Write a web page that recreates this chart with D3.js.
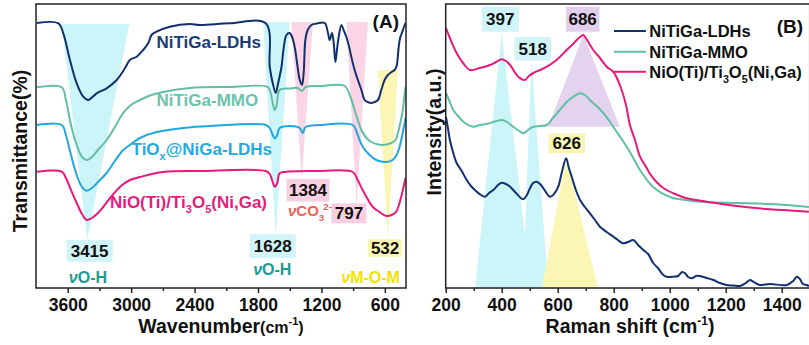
<!DOCTYPE html>
<html><head><meta charset="utf-8">
<script src="https://cdn.jsdelivr.net/npm/d3@7"></script>
<style>
body{margin:0;background:#fff;}
svg{display:block;font-family:"Liberation Sans",Arial,Helvetica,sans-serif;font-weight:bold;}
</style></head><body>
<svg id="c" width="809" height="345"></svg>
<script>
// ---------------- DATA ----------------
// FTIR (panel A): wavenumber (cm-1) and transmittance (arbitrary, stacked)
const ftirLDH_w = [3891,3689,3642,3579,3515,3453,3406,3326,3232,3137,3059,3012,2948,2886,2839,2807,2760,2634,2445,2350,2067,1727,1689,1661,1632,1609,1578,1557,1531,1500,1481,1453,1424,1405,1384,1368,1352,1330,1295,1235,1169,1138,1122,1100,1084,1068,1051,1037,1011,990,964,942,917,886,855,822,791,763,728,697,665,634,602,571,536,508,489,470,456,439,423,404];
const ftirLDH_t = [265,264.7,254.7,228,204.7,191.3,188,194.7,199.7,208,219.7,228,231.3,238,244.7,253,256.3,261.3,264,263,264.7,264.7,221,205,195,205,221,240,253,255,252,241,220,208,203,215,248,258,263,264.7,265,255,248,255,245,226,240,251,263,258,251,243,231,218,208,198,188,186,185,186,188,198,208,213,216,218,222,240,250,255,260,265];
const ftirMMO_w = [3891,3657,3617,3569,3515,3465,3421,3371,3314,3232,3154,3075,3002,2917,2823,2697,2445,2067,1708,1680,1661,1642,1623,1595,1500,1424,1384,1349,1216,980,932,886,822,782,728,634,539,499,477,452,430,414,404];
const ftirMMO_t = [200.7,200.7,188,163,143,131,128,131,138,148,161,175,183,188,192.5,196,200,201,201,195,185,178,183,198,199.5,200,197,201,202,202,193,178,158,151,146,143,145,148,155,166,178,193,201];
const ftirTiOx_w = [3891,3657,3617,3569,3515,3465,3421,3371,3314,3232,3154,3075,3012,2917,2760,2511,2256,1727,1689,1661,1642,1618,1595,1500,1405,1377,1349,1216,904,857,810,744,681,586,526,489,460,437,414,404];
const ftirTiOx_t = [163,163,153,133,113,101,97.3,100,106,115,127,138,143,150,156,160,162,163,160,153,149.7,153,160,162,160,155,161,163,163,153,141.3,133,128,126,128,133,141.3,152,164,170];
const ftirNiO_w = [3891,3657,3617,3569,3515,3465,3421,3371,3314,3264,3191,3106,3012,2917,2697,2350,1727,1689,1661,1642,1618,1595,1500,1216,904,857,810,763,716,650,586,536,492,470,445,423,404];
const ftirNiO_t = [116.3,116.3,110,98,85,74,68,70,75,81,91,101,108,111,116,117,117,114,106,101.3,105,114.7,116.5,117,116,108,98,89,81.3,76,72,73,76.3,82,91.3,101,110];

// Raman (panel B): shift (cm-1) and intensity (a.u., stacked)
const ramLDH_r = [201,208,215,226,239,255,275,290,311,326,340,355,370,387,400,415,430,451,477,490,501,512,525,537,549,572,587,602,615,630,640,650,665,680,697,715,733,751,775,799,815,834,851,870,887,906,923,941,958,977,994,1013,1030,1044,1055,1066,1079,1094,1108,1132,1156,1180,1203,1226,1251,1272,1287,1298,1322,1358,1418,1441,1454,1465,1476,1489,1497];
const ramLDH_i = [171,160,148,136,125,118,108,102,96.3,93,91.3,95,98,103,105.3,104,101.3,95,88.7,93,99.7,105,106.3,104,99.7,91.3,94,101.3,116,129.7,120,111.3,98,88,81,74.7,68,61.3,56,51.3,48,44.7,46,48,43,38,34,25,20,13,11,11.3,12,16,14.7,11,9.7,12,12,10,8,5,3,2.5,2,5,8,6.3,3,4,3,7,11.3,9,4,3,2];
const ramMMO_r = [201,212,227,244,263,299,322,346,376,400,419,441,458,477,494,513,537,561,583,608,632,656,680,697,715,739,763,787,811,833,858,894,941,1001,1055,1120,1239,1358,1489,1497];
const ramMMO_i = [195,188,178,172,166.3,161.3,163,164,166.5,168,166,161.3,158,154.7,158,161.3,162,163,170,178,186,191.3,194.7,193,188,182,175,166,156,147,136,118,101,91,88,86,85,84,81.3,81];
const ramNiO_r = [201,215,239,262,287,322,358,380,400,415,430,459,483,497,513,537,561,596,632,655,668,680,691,705,727,751,775,799,822,844,858,876,894,918,930,953,977,1019,1061,1132,1239,1358,1430,1497];
const ramNiO_i = [260,250,235,225,218,220,223,226,228.7,227,223,211.3,208,212,215,218,221.3,228,238,244,248,251,253,248,238,230,221.3,216,203,183,163,148,131.3,120,114,106,100,94,89.7,86.3,82,78.7,77.5,76.3];

const ftirMajor = [3600,3000,2400,1800,1200,600];
const ftirMinor = [3300,2700,2100,1500,900];
const ramMajor = [200,400,600,800,1000,1200,1400];
const ramMinor = [300,500,700,900,1100,1300,1500];

// ---------------- DRAWING ----------------
const svg = d3.select("#c");
const C = {ldh:"#12306e", mmo:"#62bea4", tiox:"#22a6df", nio:"#e8197a"};
const band = {cyan:"#cbf5f9", pink:"#fbd5e5", yellow:"#fcf6b4", purple:"#e4d3ee"};
const boxc = {cyan:"#d0f4f8", pink:"#f9d0e2", yellow:"#fbf5b5", purple:"#e2cfeb"};

const xF = d3.scaleLinear().domain([3900,400]).range([36,406]);
const yF = d3.scaleLinear().domain([0,284]).range([288,4]);
const xR = d3.scaleLinear().domain([200,1500]).range([445.7,809.7]);
const yR = d3.scaleLinear().domain([0,284]).range([288,4]);

const defs = svg.append("defs");
defs.append("clipPath").attr("id","clipA").append("rect").attr("x",36).attr("y",4).attr("width",370).attr("height",284);
defs.append("clipPath").attr("id","clipB").append("rect").attr("x",445.7).attr("y",4).attr("width",364).attr("height",284);

function rich(sel, segs, size){
  let shift = 0;
  segs.forEach(s=>{
    const target = s.sub ? size*0.3 : (s.sup ? -size*0.4 : 0);
    const ts = sel.append("tspan").text(s.t).attr("dy", target-shift);
    if(s.sub||s.sup) ts.attr("font-size", size*0.65);
    if(s.it) ts.attr("font-style","italic");
    if(s.dx) ts.attr("dx", s.dx);
    shift = target;
  });
}
function label(g, x, y, segs, size, color, anchor){
  const t = g.append("text").attr("x",x).attr("y",y).attr("font-size",size)
    .attr("fill",color).attr("text-anchor",anchor||"start");
  rich(t, segs, size);
  return t;
}
function box(g, cx, cy, w, h, fill, txt, size){
  g.append("rect").attr("x",cx-w/2).attr("y",cy-h/2).attr("width",w).attr("height",h).attr("fill",fill);
  g.append("text").attr("x",cx).attr("y",cy+size*0.36).attr("text-anchor","middle")
    .attr("font-size",size).attr("fill","#111").text(txt);
}

// ===== Panel A =====
const gA = svg.append("g");
const bandsA = gA.append("g").attr("clip-path","url(#clipA)");
const wedgesA = [
  {a:3657,b:3018,tip:3415,top:264,bot:48,c:band.cyan},
  {a:1752,b:1500,tip:1632,top:266,bot:52,c:band.cyan},
  {a:1484,b:1280,tip:1387,top:266,bot:108,c:band.pink},
  {a:964,b:760,tip:867,top:266,bot:83,c:band.pink},
  {a:665,b:477,tip:571,top:218,bot:48,c:band.yellow}
];
wedgesA.forEach(d=>{
  bandsA.append("polygon")
    .attr("points",[[xF(d.a),yF(d.top)],[xF(d.b),yF(d.top)],[xF(d.tip),yF(d.bot)]].map(p=>p.join(",")).join(" "))
    .attr("fill",d.c);
});
// annotation boxes A
const annA = gA.append("g");
box(annA, xF(3393), yF(37.2), 46, 22, boxc.cyan, "3415", 17);
box(annA, xF(1661), yF(41.8), 46, 24, boxc.cyan, "1628", 17);
box(annA, xF(1327), yF(97.7), 43, 22.5, boxc.pink, "1384", 17);
box(annA, xF(940), yF(74.7), 35, 20, boxc.pink, "797", 17);
box(annA, xF(598), yF(40), 34.5, 17.5, boxc.yellow, "532", 17);

// curves A
const lineA = d3.line().x(d=>xF(d[0])).y(d=>yF(d[1])).curve(d3.curveCatmullRom.alpha(0.5));
const curvesA = gA.append("g").attr("clip-path","url(#clipA)");
[[ftirLDH_w,ftirLDH_t,C.ldh],[ftirMMO_w,ftirMMO_t,C.mmo],[ftirTiOx_w,ftirTiOx_t,C.tiox],[ftirNiO_w,ftirNiO_t,C.nio]]
 .forEach(([w,t,c])=>{
  curvesA.append("path").datum(w.map((v,i)=>[v,t[i]])).attr("d",lineA)
    .attr("fill","none").attr("stroke",c).attr("stroke-width",2).attr("stroke-linejoin","round");
 });

// labels A
label(gA, xF(2760), yF(240), [{t:"NiTiGa-LDHs"}], 17, "#1b3b78");
label(gA, xF(2760), yF(182), [{t:"NiTiGa-MMO"}], 17, "#6cc3ad");
label(gA, xF(2996), yF(133.5), [{t:"TiO"},{t:"x",sub:true},{t:"@NiGa-LDHs"}], 17, "#27a9e0");
label(gA, xF(3201), yF(80.5), [{t:"NiO(Ti)/Ti"},{t:"3",sub:true},{t:"O"},{t:"5",sub:true},{t:"(Ni,Ga)"}], 17, "#e31f7b");
label(gA, xF(716), yF(260), [{t:"(A)"}], 19, "#111");
label(gA, xF(3409), yF(5), [{t:"ν",it:true},{t:"O-H"}], 16, "#1f9a93", "middle");
label(gA, xF(1665), yF(13), [{t:"ν",it:true},{t:"O-H"}], 16, "#1f9a93", "middle");
label(gA, xF(1516), yF(72), [{t:"ν",it:true},{t:"CO"},{t:"3",sub:true},{t:"2-",sup:true,dx:-1}], 15, "#ef6058");
label(gA, xF(735), yF(5), [{t:"ν",it:true},{t:"M-O-M"}], 16, "#f2e200", "middle");

// axes A
const axA = gA.append("g").attr("transform","translate(0,288)");
axA.call(d3.axisBottom(xF).tickValues(ftirMajor).tickSize(5).tickPadding(6).tickFormat(d3.format("d")));
axA.append("g").call(d3.axisBottom(xF).tickValues(ftirMinor).tickSize(3).tickFormat(""));
axA.selectAll(".domain").remove();
axA.selectAll("line").attr("stroke","#222").attr("stroke-width",1.5);
axA.selectAll("text").attr("font-size",17.5).attr("font-weight","bold").attr("fill","#111")
   .attr("font-family",'"Liberation Sans",Arial,sans-serif');
gA.append("rect").attr("x",36).attr("y",4).attr("width",370).attr("height",284)
  .attr("fill","none").attr("stroke","#222").attr("stroke-width",1.5);
const xtA = gA.append("text").attr("x",xF(2150)).attr("y",333).attr("text-anchor","middle").attr("font-size",19.5).attr("fill","#111");
xtA.append("tspan").text("Wavenumber");
xtA.append("tspan").attr("font-size",16).text("(cm");
xtA.append("tspan").attr("font-size",11).attr("dy",-8).text("-1");
xtA.append("tspan").attr("font-size",16).attr("dy",8).text(")");
gA.append("text").attr("transform","translate(27,151) rotate(-90)").attr("text-anchor","middle")
  .attr("font-size",19.5).attr("fill","#111").text("Transmittance(%)");

// ===== Panel B =====
const gB = svg.append("g");
const bandsB = gB.append("g").attr("clip-path","url(#clipB)");
const triB = [
  {apex:[400,255],b0:305,b1:505,base:0,c:band.cyan},
  {apex:[506,230],b0:476,b1:566,base:0,c:band.cyan},
  {apex:[630,130],b0:544,b1:744,base:0,c:band.yellow},
  {apex:[692,253],b0:566,b1:822,base:161.3,c:band.purple}
];
triB.forEach(d=>{
  bandsB.append("polygon")
    .attr("points",[[xR(d.apex[0]),yR(d.apex[1])],[xR(d.b0),yR(d.base)],[xR(d.b1),yR(d.base)]].map(p=>p.join(",")).join(" "))
    .attr("fill",d.c);
});
const annB = gB.append("g");
box(annB, xR(395), yR(268.8), 37, 25, boxc.cyan, "397", 17);
box(annB, xR(511), yR(239.2), 36.5, 23.5, boxc.cyan, "518", 17);
box(annB, xR(689), yR(268.8), 33.5, 25, boxc.purple, "686", 17);
box(annB, xR(632), yR(144.7), 36.5, 20, boxc.yellow, "626", 17);

const lineB = d3.line().x(d=>xR(d[0])).y(d=>yR(d[1])).curve(d3.curveCatmullRom.alpha(0.5));
const curvesB = gB.append("g").attr("clip-path","url(#clipB)");
[[ramMMO_r,ramMMO_i,C.mmo],[ramNiO_r,ramNiO_i,C.nio],[ramLDH_r,ramLDH_i,C.ldh]]
 .forEach(([r,v,c])=>{
  curvesB.append("path").datum(r.map((x,i)=>[x,v[i]])).attr("d",lineB)
    .attr("fill","none").attr("stroke",c).attr("stroke-width",2).attr("stroke-linejoin","round");
 });

// legend
const leg = [
  {segs:[{t:"NiTiGa-LDHs"}], c:C.ldh, v:257},
  {segs:[{t:"NiTiGa-MMO"}], c:C.mmo, v:236.3},
  {segs:[{t:"NiO(Ti)/Ti"},{t:"3",sub:true},{t:"O"},{t:"5",sub:true},{t:"(Ni,Ga)"}], c:C.nio, v:216.3}
];
leg.forEach(d=>{
  gB.append("line").attr("x1",xR(801)).attr("x2",xR(915)).attr("y1",yR(d.v)).attr("y2",yR(d.v))
    .attr("stroke",d.c).attr("stroke-width",2);
  label(gB, xR(927), yR(d.v)+6, d.segs, 16.5, "#111");
});
label(gB, xR(1382), yR(255), [{t:"(B)"}], 19, "#111");

const axB = gB.append("g").attr("transform","translate(0,288)");
axB.call(d3.axisBottom(xR).tickValues(ramMajor).tickSize(5).tickPadding(6).tickFormat(d3.format("d")));
axB.append("g").call(d3.axisBottom(xR).tickValues(ramMinor).tickSize(3).tickFormat(""));
axB.selectAll(".domain").remove();
axB.selectAll("line").attr("stroke","#222").attr("stroke-width",1.5);
axB.selectAll("text").attr("font-size",17.5).attr("font-weight","bold").attr("fill","#111")
   .attr("font-family",'"Liberation Sans",Arial,sans-serif');
gB.append("rect").attr("x",445.7).attr("y",4).attr("width",364).attr("height",284)
  .attr("fill","none").attr("stroke","#222").attr("stroke-width",1.5);
const xtB = gB.append("text").attr("x",630).attr("y",333).attr("text-anchor","middle").attr("font-size",19.5).attr("fill","#111");
xtB.append("tspan").text("Raman shift (cm");
xtB.append("tspan").attr("font-size",12).attr("dy",-8).text("-1");
xtB.append("tspan").attr("dy",8).text(")");
gB.append("text").attr("transform","translate(441,132) rotate(-90)").attr("text-anchor","middle")
  .attr("font-size",19.5).attr("fill","#111").text("Intensity(a.u.)");
</script>
</body></html>
